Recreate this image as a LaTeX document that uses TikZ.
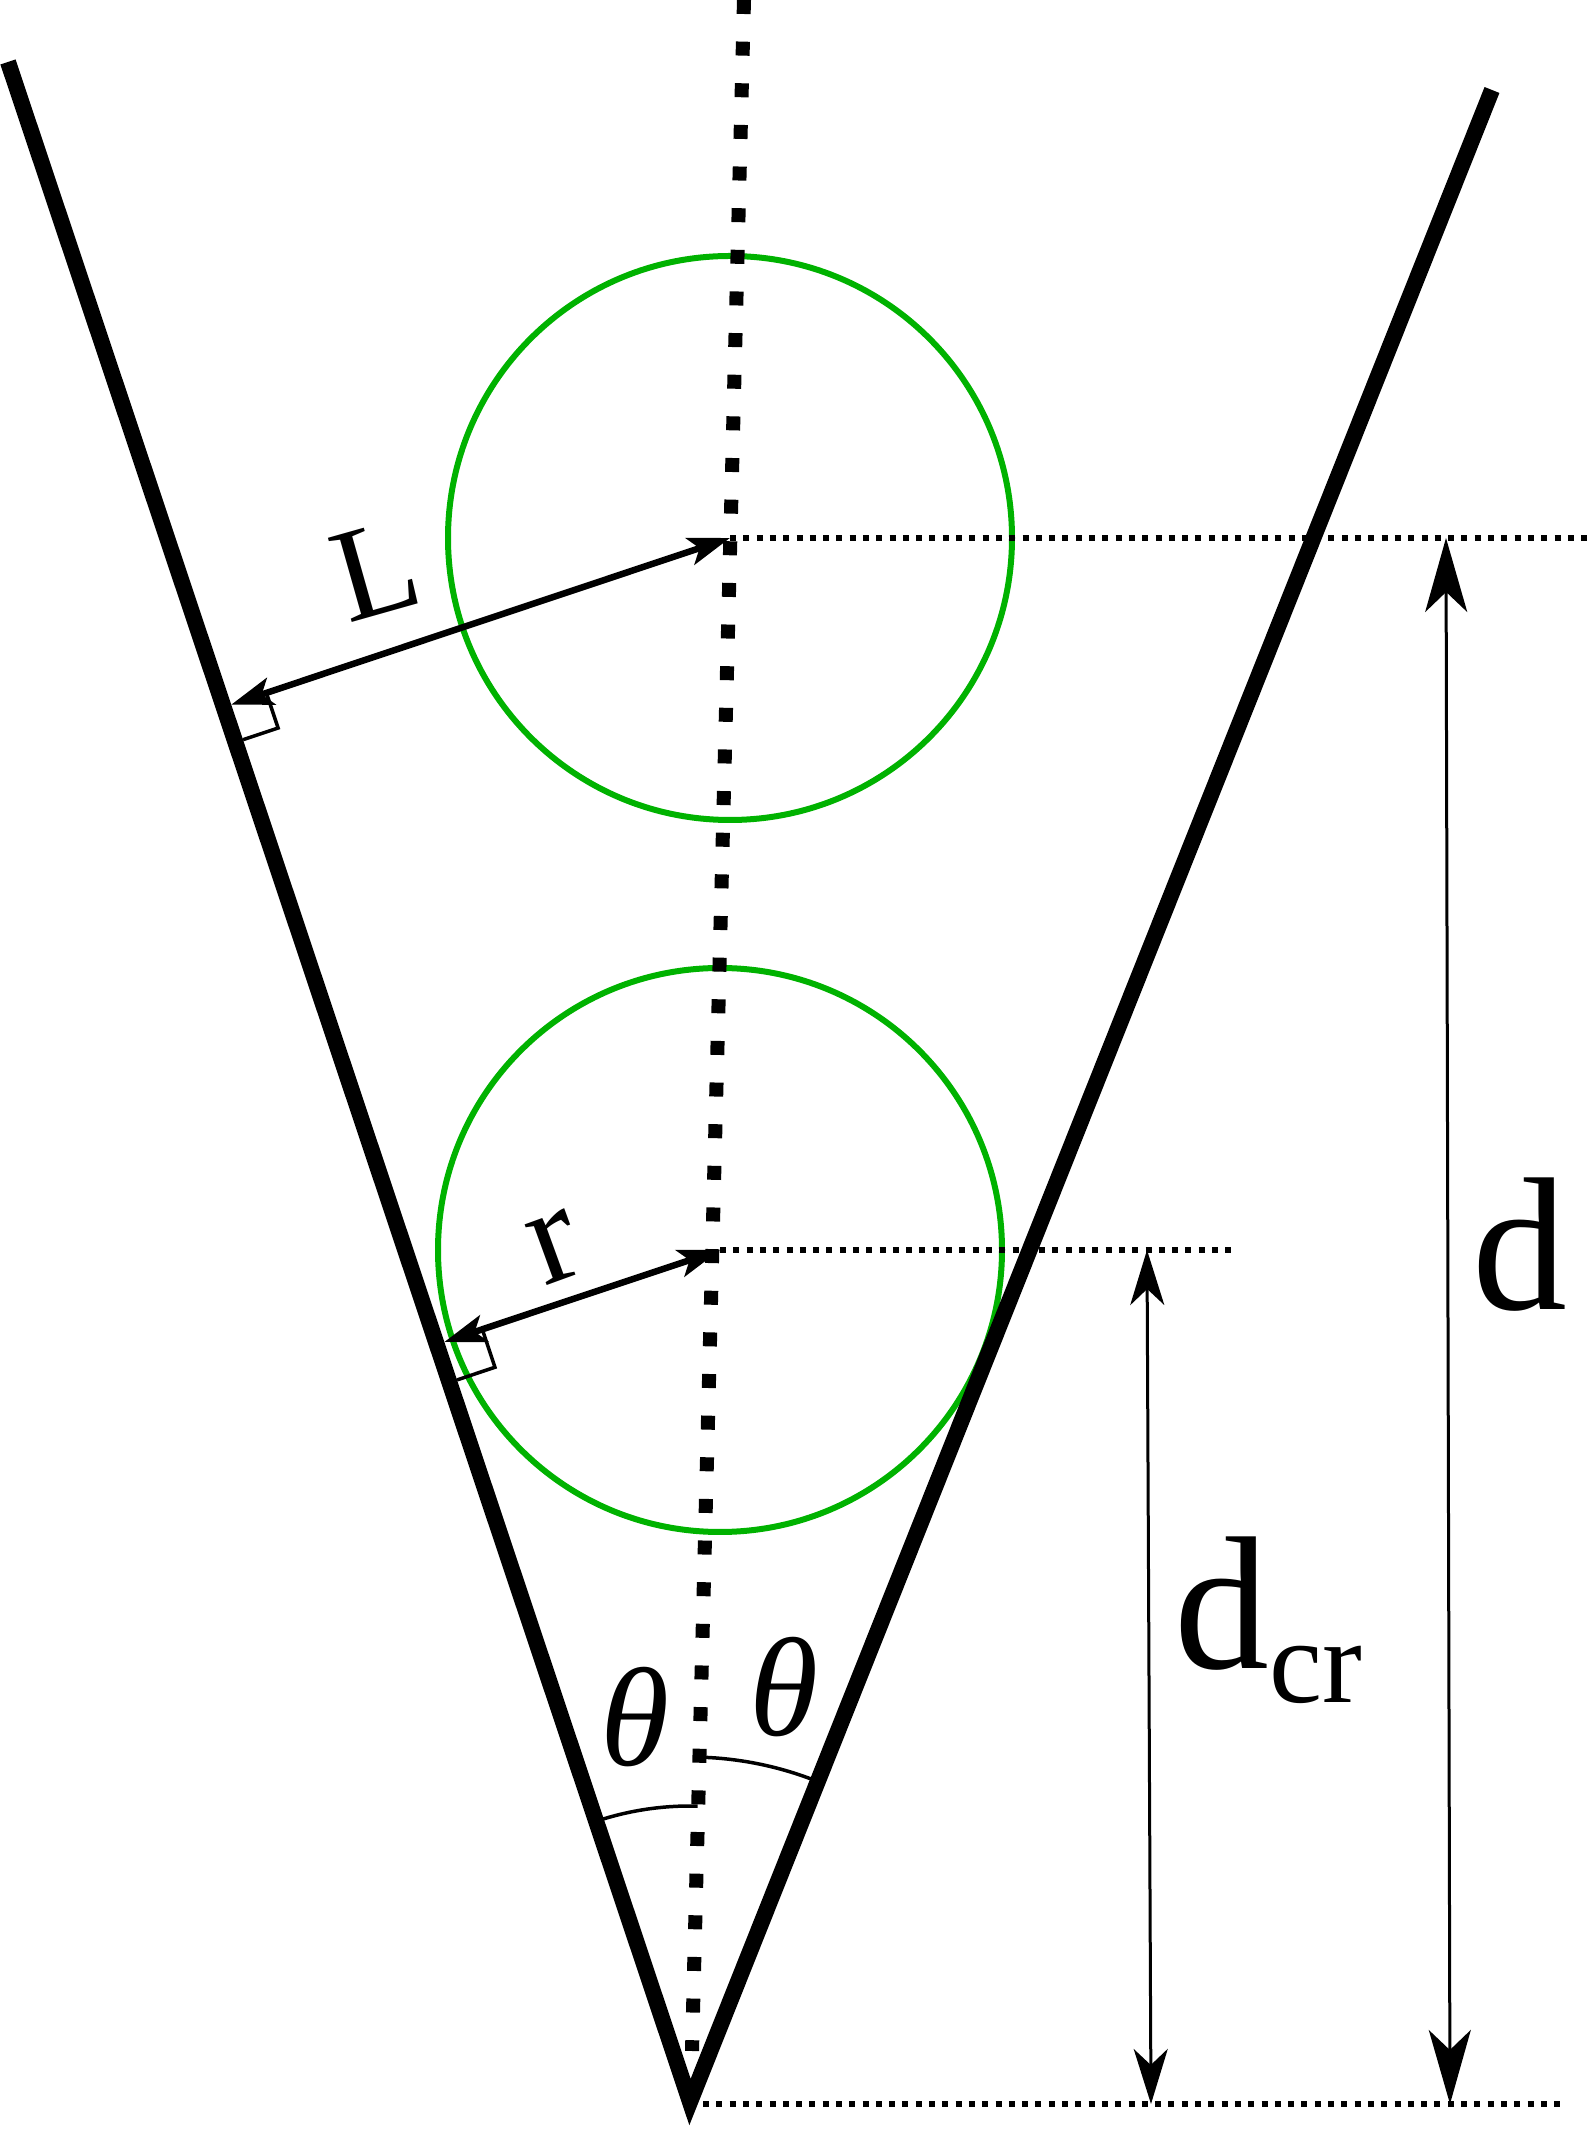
\documentclass[tikz,border=0pt]{standalone}
\usepackage{fontspec}
\setmainfont{Liberation Serif}
\usepackage{tikz}
\usetikzlibrary{arrows.meta}
\usetikzlibrary{calc}
\usetikzlibrary{angles}
\definecolor{ballgreen}{RGB}{0,178,0}
\tikzset{
  wall/.style={line width=0.16cm, line join=miter},
  axisdots/.style={line width=0.14cm, dash pattern=on 0.14cm off 0.2765cm},
  guide/.style={line width=0.06cm, dash pattern=on 0.06cm off 0.073cm},
  ball/.style={ballgreen, line width=0.06cm},
  radline/.style={line width=0.065cm, {Stealth[length=0.42cm, width=0.28cm, inset=0.1cm]}-{Stealth[length=0.42cm, width=0.28cm, inset=0.1cm]}},
  dimbig/.style={line width=0.03cm, {Stealth[length=0.74cm, width=0.42cm, inset=0.2cm]}-{Stealth[length=0.74cm, width=0.42cm, inset=0.2cm]}},
  dimsmall/.style={line width=0.03cm, {Stealth[length=0.55cm, width=0.34cm, inset=0.16cm]}-{Stealth[length=0.55cm, width=0.34cm, inset=0.16cm]}},
  rightmark/.style={line width=0.035cm},
  anglearc/.style={draw, line width=0.035cm},
  lbl/.style={inner sep=0pt}
}

\begin{document}
\begin{tikzpicture}
  \useasboundingbox (0,0) rectangle (15.88,21.29);
  \coordinate (LT) at (0.08,20.67);
  \coordinate (A) at (6.90,0.27);
  \coordinate (RT) at (14.92,20.39);
  \coordinate (AxT) at (7.44,21.29);
  \coordinate (AxB) at (6.92,0.78);
  \coordinate (C1) at (7.30,15.91);
  \coordinate (C2) at (7.20,8.79);
  \coordinate (G1) at (15.88,15.91);
  \coordinate (G2) at (12.38,8.79);
  \coordinate (B0) at (7.03,0.25);
  \coordinate (B1) at (15.61,0.25);
  \coordinate (dT) at (14.46,15.91);
  \coordinate (dB) at (14.50,0.25);
  \coordinate (dcrT) at (11.47,8.79);
  \coordinate (dcrB) at (11.51,0.25);

  \draw[ball] (C1) circle (2.82);
  \draw[ball] (C2) circle (2.82);

  \draw[wall] (LT) -- (A) -- (RT);
  \draw[axisdots] (AxT) -- (AxB);
  \draw[guide] (C1) -- (G1);
  \draw[guide] (C2) -- (G2);
  \draw[guide] (B0) -- (B1);

  \coordinate (F1) at ($(LT)!(C1)!(A)$);
  \coordinate (E1) at ($(F1)!0.08cm!(C1)$);
  \coordinate (F2) at ($(LT)!(C2)!(A)$);
  \coordinate (E2) at ($(F2)!0.08cm!(C2)$);
  \draw[radline] (E1) -- (C1);
  \draw[radline] (E2) -- (C2);

  \coordinate (m1a) at ($(E1)!0.37cm!(C1)$);
  \coordinate (m1b) at ($(E1)!0.37cm!-90:(C1)$);
  \coordinate (m2a) at ($(E2)!0.40cm!(C2)$);
  \coordinate (m2b) at ($(E2)!0.40cm!-90:(C2)$);
  \draw[rightmark] (m1a) -- ($(m1a)+(m1b)-(E1)$) -- (m1b);
  \draw[rightmark] (m2a) -- ($(m2a)+(m2b)-(E2)$) -- (m2b);

  \draw[dimbig] (dT) -- (dB);
  \draw[dimsmall] (dcrT) -- (dcrB);

  \pic[anglearc, angle radius=2.96cm] {angle=AxT--A--LT};
  \pic[anglearc, angle radius=3.45cm] {angle=RT--A--AxT};

  \node[lbl, rotate=15.8, font=\fontsize{38}{42}\selectfont] (Llbl) at (3.76,15.59) {L};
  \node[lbl, rotate=20, font=\fontsize{40}{44}\selectfont] (rlbl) at (5.55,8.82) {r};
  \node[lbl, font=\fontsize{54}{60}\selectfont] (dlbl) at (15.20,8.84) {d};
  \node[lbl, anchor=base west, font=\fontsize{54}{60}\selectfont] (dcrlbl) at (11.74,4.60) {d\raisebox{-0.34cm}{\fontsize{34}{40}\selectfont cr}};
  \node[lbl, font=\fontsize{40}{44}\selectfont\itshape] (thl) at (6.35,4.12) {θ};
  \node[lbl, font=\fontsize{40}{44}\selectfont\itshape] (thr) at (7.84,4.42) {θ};
\end{tikzpicture}
\end{document}
